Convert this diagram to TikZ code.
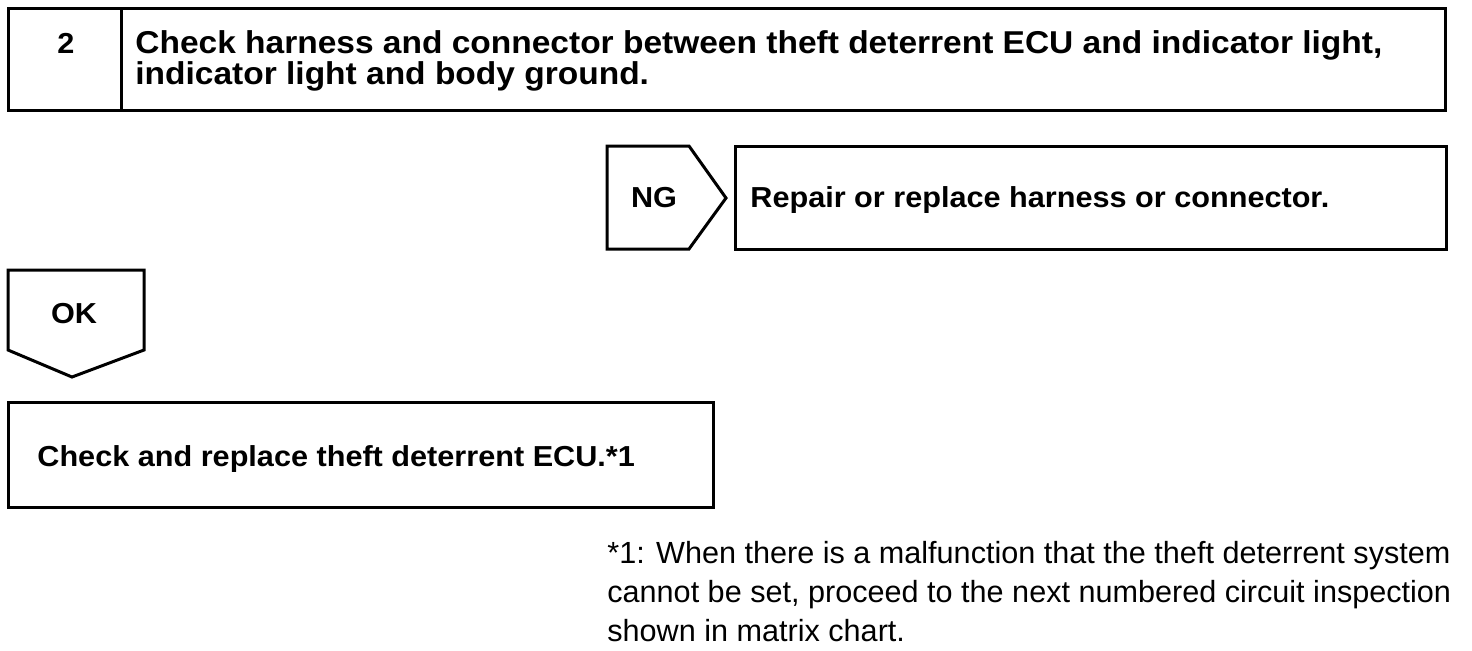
\documentclass[tikz,border=0pt]{standalone}
\usepackage{fontspec}
\setmainfont{Liberation Sans}[BoldFeatures={FakeStretch=1.06}]
\begin{document}
\begin{tikzpicture}[x=0.5pt,y=-0.5pt,
  frame/.style={draw=black, line width=1.5pt, line join=miter},
  big/.style={font=\bfseries\fontsize{15.8}{17}\selectfont, anchor=base west, inner sep=0pt},
  mid/.style={font=\bfseries\fontsize{14.45}{17}\selectfont, anchor=base west, inner sep=0pt},
  note/.style={font=\fontsize{15.3}{17}\selectfont, anchor=base west, inner sep=0pt}]
\useasboundingbox (0,0) rectangle (1472,650);
% header
\draw[frame] (8,8) rectangle (1445,110);
\draw[frame] (121,8) -- (121,110);
\node[mid, anchor=base] (num) at (66,53) {2};
\node[big] (t1) at (135,53) {Check harness and connector between theft deterrent ECU and indicator light,};
\node[big] (t2) at (135,84) {indicator light and body ground.};
% NG
\draw[frame] (607,146) -- (689,146) -- (726,198) -- (689,249) -- (607,249) -- cycle;
\node[mid, anchor=base] (ng) at (654,207) {NG};
\draw[frame] (735,146) rectangle (1446,249);
\node[mid] (repair) at (750,207) {Repair or replace harness or connector.};
% OK
\draw[frame] (8,270) -- (144,270) -- (144,350) -- (72,377) -- (8,350) -- cycle;
\node[mid, anchor=base] (ok) at (74,323) {OK};
\draw[frame] (8,402) rectangle (713,507);
\node[mid] (ecu) at (37,466) {Check and replace theft deterrent ECU.*1};
% footnote
\node[note] (n1) at (607,563) {*1: When there is a malfunction that the theft deterrent system};
\node[note] (n2) at (607,602) {cannot be set, proceed to the next numbered circuit inspection};
\node[note] (n3) at (607,641) {shown in matrix chart.};
\end{tikzpicture}
\end{document}
